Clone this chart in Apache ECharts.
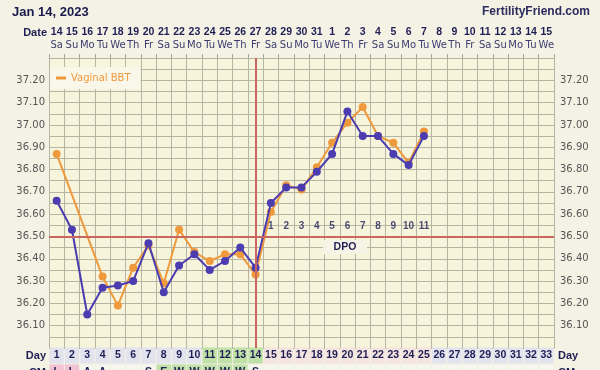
<!DOCTYPE html>
<html><head><meta charset="utf-8">
<script src="https://cdn.jsdelivr.net/npm/echarts@6/dist/echarts.min.js"></script>
<style>html,body{margin:0;padding:0;background:#f4f2e4}#c{width:600px;height:370px}</style>
</head><body><div id="c"></div><script>
// ---- data ----
const dates = ['14','15','16','17','18','19','20','21','22','23','24','25','26','27','28','29','30','31','1','2','3','4','5','6','7','8','9','10','11','12','13','14','15'];
const weekdays = ['Sa','Su','Mo','Tu','We','Th','Fr','Sa','Su','Mo','Tu','We','Th','Fr','Sa','Su','Mo','Tu','We','Th','Fr','Sa','Su','Mo','Tu','We','Th','Fr','Sa','Su','Mo','Tu','We'];
const cycleDays = ['1','2','3','4','5','6','7','8','9','10','11','12','13','14','15','16','17','18','19','20','21','22','23','24','25','26','27','28','29','30','31','32','33'];
const bbt = [36.66,36.53,36.15,36.27,36.28,36.30,36.47,36.25,36.37,36.42,36.35,36.39,36.45,36.36,36.65,36.72,36.72,36.79,36.87,37.06,36.95,36.95,36.87,36.82,36.95,null,null,null,null,null,null,null,null];
const vaginalBBT = [36.87,null,null,36.32,36.19,36.36,36.46,36.29,36.53,36.43,36.39,36.42,36.42,36.33,36.61,36.73,36.71,36.81,36.92,37.01,37.08,36.95,36.92,36.83,36.97,null,null,null,null,null,null,null,null];
const ovulationDate = '27';
const coverline = 36.50;
const dpoLabels = ['1','2','3','4','5','6','7','8','9','10','11'];
const dpoFirstDay = 15;
const dpoLabelLevel = 36.545;
const dayPhase = ['pre','pre','pre','pre','pre','pre','pre','pre','pre','pre','fertile','fertile','fertile','fertile','luteal','luteal','luteal','luteal','luteal','luteal','luteal','luteal','luteal','luteal','luteal','future','future','future','future','future','future','future','future'];
const cmCodes = ['L','L','A','A','','','S','E','W','W','W','W','W','S','','','','','','','','','','','','','','','','','','',''];
const rowNames = ['Day','CM'];

// ---- styles ----
const gridC = '#b6b4a2';
const navy = '#1e1e55';
const orange = '#ee9a3c';
const blue = '#4b3cb0';
const phaseColor = {pre:'#e3e3ee', fertile:'#bfe0a6', luteal:'#f4e4df', future:'#e3e3ef'};
const cmColor = c => c === 'L' ? '#f1c3d3' : (c === 'E' || c === 'W') ? '#bfe0a6' : '#f6f5ee';
const yFmt = v => { const k = Math.round(v*100); if (k % 10 !== 0 || k < 3610 || k > 3720) return ''; return (k/100).toFixed(2); };

const chart = echarts.init(document.getElementById('c'), null, {renderer:'canvas'});
const rowData = [];
cycleDays.forEach((d,i) => { rowNames.forEach((n,r) => rowData.push([i,r])); });
const rowPx = 17, rowGridH = 23;

const rowLabelGraphics = [];
rowNames.forEach((n, r) => {
  const cy = 347 + rowPx*r + rowPx/2;
  rowLabelGraphics.push({type:'text', x:46, y:cy, style:{text:n, font:'bold 11px "Liberation Sans"', fill:navy, align:'right', verticalAlign:'middle'}});
  rowLabelGraphics.push({type:'text', x:558, y:cy, style:{text:n, font:'bold 11px "Liberation Sans"', fill:navy, align:'left', verticalAlign:'middle'}});
});

chart.setOption({
  animation:false,
  backgroundColor:'#f4f2e4',
  grid:[
    {left:49, right:46, top:58, height:290, show:true, backgroundColor:'#f7f4dc', borderWidth:0},
    {left:49, right:46, top:347, height:rowGridH}
  ],
  legend:{data:['Vaginal BBT'], left:50, top:67, backgroundColor:'#f9f7e9', padding:[6,10,6,6],
    icon:'rect', itemWidth:10, itemHeight:3, itemGap:4,
    textStyle:{color:orange, fontFamily:'DejaVu Sans', fontSize:10}},
  xAxis:[
    {gridIndex:0, type:'category', position:'top', data:dates, boundaryGap:true,
      axisLine:{show:true, lineStyle:{color:gridC}},
      axisTick:{show:true, interval:0, length:4, lineStyle:{color:'#a8a694'}},
      axisLabel:{interval:0, margin:6, formatter:(v,i)=>'{d|'+v+'}\n{w|'+weekdays[i]+'}',
        rich:{d:{fontFamily:'Liberation Sans', fontWeight:'bold', fontSize:10.5, color:navy, lineHeight:13},
              w:{fontFamily:'DejaVu Sans', fontSize:10, color:'#3c3c70', lineHeight:13}}},
      splitLine:{show:true, interval:0, lineStyle:{color:gridC, width:1}}},
    {gridIndex:1, type:'category', data:cycleDays, show:false, boundaryGap:true}
  ],
  yAxis:[
    {gridIndex:0, type:'value', min:36, max:37.3, interval:0.05, position:'left',
      axisLine:{show:true, lineStyle:{color:gridC}}, axisTick:{show:false},
      axisLabel:{formatter:yFmt, margin:4, color:'#555', fontFamily:'DejaVu Sans', fontSize:10, showMinLabel:true, showMaxLabel:true},
      splitLine:{show:true, lineStyle:{color:gridC, width:1}}},
    {gridIndex:0, type:'value', min:36, max:37.3, interval:0.05, position:'right',
      axisLine:{show:true, lineStyle:{color:gridC}}, axisTick:{show:false},
      axisLabel:{formatter:yFmt, margin:6, color:'#555', fontFamily:'DejaVu Sans', fontSize:10},
      splitLine:{show:false}},
    {gridIndex:1, type:'value', min:0, max:rowGridH/rowPx, inverse:true, show:false}
  ],
  graphic:[
    {type:'text', left:12, top:6, style:{text:'Jan 14, 2023', font:'bold 13px "Liberation Sans"', fill:'#1a1a4e'}},
    {type:'text', right:10, top:6, style:{text:'FertilityFriend.com', font:'bold 12px "Liberation Sans"', fill:'#2b2b5e'}},
    {type:'text', x:47, y:33, style:{text:'Date', font:'bold 11px "Liberation Sans"', fill:navy, align:'right', verticalAlign:'middle'}},
    {type:'rect', shape:{x:323, y:240, width:44, height:14}, style:{fill:'#f6f4e6'}, z:5},
    {type:'text', x:345, y:247.5, style:{text:'DPO', font:'bold 10.5px "Liberation Sans"', fill:navy, align:'center', verticalAlign:'middle'}, z:6}
  ].concat(rowLabelGraphics),
  series:[
    {type:'line', name:'marks', xAxisIndex:0, yAxisIndex:0, data:dates.map(()=>null), z:1, silent:true,
      markLine:{silent:true, symbol:['none','none'], label:{show:false},
        lineStyle:{color:'#c8665f', width:2, type:'solid'},
        data:[{xAxis:ovulationDate},{yAxis:coverline}]}},
    {type:'line', name:'Vaginal BBT', xAxisIndex:0, yAxisIndex:0, data:vaginalBBT, connectNulls:true,
      symbol:'circle', symbolSize:8, z:3, itemStyle:{color:orange}, lineStyle:{color:orange, width:2}},
    {type:'line', name:'BBT', xAxisIndex:0, yAxisIndex:0, data:bbt, connectNulls:true,
      symbol:'circle', symbolSize:8, z:4, itemStyle:{color:blue}, lineStyle:{color:blue, width:2}},
    {type:'scatter', name:'DPO', xAxisIndex:0, yAxisIndex:0, symbolSize:2, itemStyle:{color:'rgba(0,0,0,0)'}, z:5,
      data:dpoLabels.map((t,i)=>[dpoFirstDay-1+i, dpoLabelLevel]),
      label:{show:true, position:'inside', formatter:p=>dpoLabels[p.dataIndex],
        fontFamily:'Liberation Sans', fontWeight:'bold', fontSize:10, color:navy, textBorderWidth:0, textBorderColor:'transparent'}},
    {type:'custom', name:'rows', xAxisIndex:1, yAxisIndex:2, data:rowData, clip:false,
      renderItem:(params, api)=>{
        const i = api.value(0), r = api.value(1);
        const a = api.coord([i, r]);
        const b = api.coord([i, r+1]);
        const w = api.size([1, 0])[0];
        const fill = r === 0 ? phaseColor[dayPhase[i]] : cmColor(cmCodes[i]);
        const txt = r === 0 ? cycleDays[i] : cmCodes[i];
        return {type:'group', children:[
          {type:'rect', shape:{x:a[0]-w/2+0.5, y:a[1]+0.5, width:w-1, height:b[1]-a[1]-1}, style:{fill:fill}},
          {type:'text', style:{x:a[0], y:(a[1]+b[1])/2, text:txt, align:'center', verticalAlign:'middle',
            font:'bold 10.5px "Liberation Sans"', fill:navy}}
        ]};
      }}
  ]
});
</script></body></html>
